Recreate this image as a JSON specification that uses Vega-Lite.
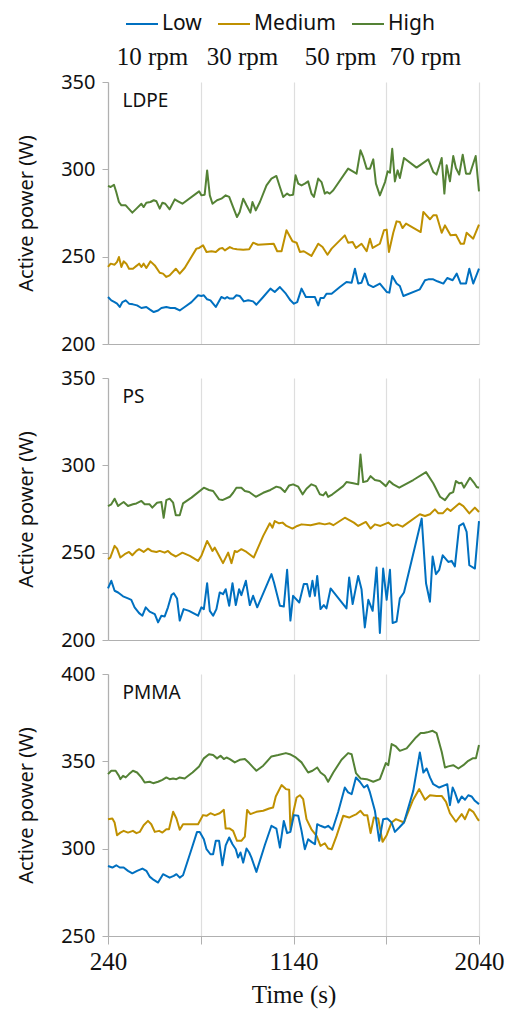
{
"$schema": "https://vega.github.io/schema/vega-lite/v6.json",
"padding": {"left": 16, "top": 7, "right": 5, "bottom": 5},
"background": "white",
"bounds": "flush",
"spacing": 34,
"config": {
  "view": {"stroke": null},
  "axis": {"domainColor": "#b0b0b0", "tickColor": "#b0b0b0", "gridColor": "#dedede", "labelColor": "#111111", "titleColor": "#111111", "domainWidth": 1.2, "gridWidth": 1.2}
},
"datasets": {
"LDPE": [
{"s":"High","t":240,"p":290.5},{"s":"High","t":253,"p":289.9},{"s":"High","t":269,"p":291.2},{"s":"High","t":280,"p":287.0},{"s":"High","t":293,"p":281.3},{"s":"High","t":305,"p":279.4},{"s":"High","t":326,"p":279.4},{"s":"High","t":337,"p":277.9},{"s":"High","t":358,"p":275.2},{"s":"High","t":378,"p":277.5},{"s":"High","t":402,"p":280.3},{"s":"High","t":413,"p":278.4},{"s":"High","t":426,"p":280.9},{"s":"High","t":446,"p":281.3},{"s":"High","t":462,"p":282.3},{"s":"High","t":475,"p":281.7},{"s":"High","t":491,"p":277.5},{"s":"High","t":504,"p":280.9},{"s":"High","t":518,"p":280.3},{"s":"High","t":539,"p":277.1},{"s":"High","t":564,"p":282.8},{"s":"High","t":580,"p":281.7},{"s":"High","t":601,"p":280.3},{"s":"High","t":682,"p":287.4},{"s":"High","t":693,"p":285.1},{"s":"High","t":709,"p":285.5},{"s":"High","t":721,"p":299.4},{"s":"High","t":734,"p":285.1},{"s":"High","t":747,"p":280.3},{"s":"High","t":769,"p":282.3},{"s":"High","t":790,"p":283.2},{"s":"High","t":811,"p":285.1},{"s":"High","t":828,"p":284.2},{"s":"High","t":847,"p":278.4},{"s":"High","t":866,"p":272.7},{"s":"High","t":879,"p":275.6},{"s":"High","t":896,"p":283.2},{"s":"High","t":912,"p":279.4},{"s":"High","t":931,"p":275.2},{"s":"High","t":941,"p":281.3},{"s":"High","t":957,"p":276.5},{"s":"High","t":977,"p":281.3},{"s":"High","t":1009,"p":290.8},{"s":"High","t":1033,"p":294.7},{"s":"High","t":1057,"p":296.2},{"s":"High","t":1074,"p":289.9},{"s":"High","t":1090,"p":284.2},{"s":"High","t":1109,"p":286.1},{"s":"High","t":1122,"p":285.1},{"s":"High","t":1138,"p":285.5},{"s":"High","t":1150,"p":296.6},{"s":"High","t":1163,"p":291.8},{"s":"High","t":1179,"p":290.8},{"s":"High","t":1195,"p":291.8},{"s":"High","t":1211,"p":293.1},{"s":"High","t":1227,"p":286.1},{"s":"High","t":1239,"p":284.2},{"s":"High","t":1260,"p":294.7},{"s":"High","t":1276,"p":292.7},{"s":"High","t":1292,"p":286.1},{"s":"High","t":1303,"p":287.0},{"s":"High","t":1316,"p":286.1},{"s":"High","t":1333,"p":288.0},{"s":"High","t":1405,"p":300.4},{"s":"High","t":1446,"p":297.5},{"s":"High","t":1465,"p":310.9},{"s":"High","t":1478,"p":307.1},{"s":"High","t":1495,"p":300.4},{"s":"High","t":1511,"p":300.4},{"s":"High","t":1527,"p":305.7},{"s":"High","t":1540,"p":291.8},{"s":"High","t":1559,"p":285.1},{"s":"High","t":1584,"p":292.7},{"s":"High","t":1597,"p":298.9},{"s":"High","t":1608,"p":298.1},{"s":"High","t":1619,"p":311.8},{"s":"High","t":1632,"p":293.1},{"s":"High","t":1645,"p":299.4},{"s":"High","t":1656,"p":295.0},{"s":"High","t":1676,"p":306.5},{"s":"High","t":1737,"p":301.0},{"s":"High","t":1794,"p":305.7},{"s":"High","t":1818,"p":298.5},{"s":"High","t":1834,"p":297.0},{"s":"High","t":1859,"p":306.5},{"s":"High","t":1872,"p":286.1},{"s":"High","t":1883,"p":302.3},{"s":"High","t":1899,"p":293.1},{"s":"High","t":1915,"p":307.6},{"s":"High","t":1928,"p":300.8},{"s":"High","t":1944,"p":297.0},{"s":"High","t":1961,"p":308.4},{"s":"High","t":1977,"p":297.5},{"s":"High","t":1996,"p":297.5},{"s":"High","t":2024,"p":307.6},{"s":"High","t":2040,"p":287.4},
{"s":"Medium","t":240,"p":244.1},{"s":"Medium","t":253,"p":246.0},{"s":"Medium","t":272,"p":245.4},{"s":"Medium","t":284,"p":247.0},{"s":"Medium","t":293,"p":249.8},{"s":"Medium","t":305,"p":244.1},{"s":"Medium","t":316,"p":247.3},{"s":"Medium","t":329,"p":246.0},{"s":"Medium","t":342,"p":243.1},{"s":"Medium","t":361,"p":243.1},{"s":"Medium","t":381,"p":245.0},{"s":"Medium","t":391,"p":246.0},{"s":"Medium","t":402,"p":244.1},{"s":"Medium","t":413,"p":246.0},{"s":"Medium","t":426,"p":243.5},{"s":"Medium","t":446,"p":247.3},{"s":"Medium","t":467,"p":245.0},{"s":"Medium","t":491,"p":240.8},{"s":"Medium","t":507,"p":240.3},{"s":"Medium","t":523,"p":238.4},{"s":"Medium","t":539,"p":239.3},{"s":"Medium","t":569,"p":243.1},{"s":"Medium","t":588,"p":240.3},{"s":"Medium","t":612,"p":243.5},{"s":"Medium","t":669,"p":254.6},{"s":"Medium","t":682,"p":255.0},{"s":"Medium","t":701,"p":256.5},{"s":"Medium","t":718,"p":252.7},{"s":"Medium","t":742,"p":253.1},{"s":"Medium","t":763,"p":252.7},{"s":"Medium","t":782,"p":254.6},{"s":"Medium","t":795,"p":255.0},{"s":"Medium","t":807,"p":253.6},{"s":"Medium","t":831,"p":255.5},{"s":"Medium","t":847,"p":254.6},{"s":"Medium","t":866,"p":254.2},{"s":"Medium","t":896,"p":254.0},{"s":"Medium","t":925,"p":254.2},{"s":"Medium","t":944,"p":258.0},{"s":"Medium","t":968,"p":256.8},{"s":"Medium","t":1044,"p":257.4},{"s":"Medium","t":1061,"p":253.1},{"s":"Medium","t":1082,"p":253.1},{"s":"Medium","t":1106,"p":265.1},{"s":"Medium","t":1135,"p":258.8},{"s":"Medium","t":1155,"p":258.0},{"s":"Medium","t":1171,"p":252.7},{"s":"Medium","t":1190,"p":253.1},{"s":"Medium","t":1227,"p":250.4},{"s":"Medium","t":1260,"p":257.4},{"s":"Medium","t":1281,"p":255.5},{"s":"Medium","t":1305,"p":251.1},{"s":"Medium","t":1325,"p":254.6},{"s":"Medium","t":1389,"p":262.2},{"s":"Medium","t":1405,"p":258.0},{"s":"Medium","t":1427,"p":258.4},{"s":"Medium","t":1443,"p":255.0},{"s":"Medium","t":1470,"p":257.4},{"s":"Medium","t":1495,"p":253.1},{"s":"Medium","t":1511,"p":260.3},{"s":"Medium","t":1524,"p":255.0},{"s":"Medium","t":1559,"p":257.4},{"s":"Medium","t":1579,"p":265.1},{"s":"Medium","t":1592,"p":265.5},{"s":"Medium","t":1603,"p":252.7},{"s":"Medium","t":1624,"p":263.7},{"s":"Medium","t":1640,"p":270.2},{"s":"Medium","t":1656,"p":269.8},{"s":"Medium","t":1669,"p":266.4},{"s":"Medium","t":1686,"p":268.9},{"s":"Medium","t":1757,"p":264.1},{"s":"Medium","t":1770,"p":275.6},{"s":"Medium","t":1802,"p":271.4},{"s":"Medium","t":1818,"p":273.7},{"s":"Medium","t":1834,"p":273.7},{"s":"Medium","t":1859,"p":263.7},{"s":"Medium","t":1875,"p":267.9},{"s":"Medium","t":1902,"p":262.2},{"s":"Medium","t":1928,"p":262.6},{"s":"Medium","t":1951,"p":257.4},{"s":"Medium","t":1967,"p":257.4},{"s":"Medium","t":1980,"p":263.7},{"s":"Medium","t":2012,"p":260.3},{"s":"Medium","t":2040,"p":268.3},
{"s":"Low","t":240,"p":226.9},{"s":"Low","t":256,"p":225.0},{"s":"Low","t":272,"p":224.0},{"s":"Low","t":284,"p":223.1},{"s":"Low","t":297,"p":221.2},{"s":"Low","t":310,"p":224.0},{"s":"Low","t":326,"p":225.0},{"s":"Low","t":342,"p":223.1},{"s":"Low","t":361,"p":222.7},{"s":"Low","t":381,"p":222.1},{"s":"Low","t":402,"p":220.6},{"s":"Low","t":426,"p":221.2},{"s":"Low","t":442,"p":219.8},{"s":"Low","t":462,"p":218.3},{"s":"Low","t":483,"p":219.2},{"s":"Low","t":499,"p":220.6},{"s":"Low","t":523,"p":221.2},{"s":"Low","t":543,"p":220.6},{"s":"Low","t":564,"p":220.6},{"s":"Low","t":588,"p":219.2},{"s":"Low","t":612,"p":221.2},{"s":"Low","t":645,"p":224.0},{"s":"Low","t":677,"p":227.9},{"s":"Low","t":693,"p":227.5},{"s":"Low","t":705,"p":227.9},{"s":"Low","t":721,"p":225.6},{"s":"Low","t":737,"p":225.0},{"s":"Low","t":763,"p":221.2},{"s":"Low","t":790,"p":226.9},{"s":"Low","t":807,"p":226.0},{"s":"Low","t":818,"p":226.9},{"s":"Low","t":831,"p":226.0},{"s":"Low","t":847,"p":226.0},{"s":"Low","t":863,"p":227.9},{"s":"Low","t":879,"p":227.5},{"s":"Low","t":899,"p":224.4},{"s":"Low","t":920,"p":225.0},{"s":"Low","t":944,"p":224.4},{"s":"Low","t":960,"p":222.5},{"s":"Low","t":993,"p":226.9},{"s":"Low","t":1028,"p":231.7},{"s":"Low","t":1049,"p":229.8},{"s":"Low","t":1074,"p":232.6},{"s":"Low","t":1103,"p":228.8},{"s":"Low","t":1125,"p":225.0},{"s":"Low","t":1142,"p":223.1},{"s":"Low","t":1158,"p":224.0},{"s":"Low","t":1179,"p":231.7},{"s":"Low","t":1200,"p":226.9},{"s":"Low","t":1219,"p":226.9},{"s":"Low","t":1244,"p":226.9},{"s":"Low","t":1260,"p":222.1},{"s":"Low","t":1271,"p":226.3},{"s":"Low","t":1287,"p":226.3},{"s":"Low","t":1300,"p":228.8},{"s":"Low","t":1325,"p":228.8},{"s":"Low","t":1365,"p":232.6},{"s":"Low","t":1397,"p":235.5},{"s":"Low","t":1422,"p":235.1},{"s":"Low","t":1438,"p":243.1},{"s":"Low","t":1454,"p":234.6},{"s":"Low","t":1470,"p":235.1},{"s":"Low","t":1486,"p":240.3},{"s":"Low","t":1503,"p":234.0},{"s":"Low","t":1527,"p":232.6},{"s":"Low","t":1559,"p":234.6},{"s":"Low","t":1592,"p":229.8},{"s":"Low","t":1605,"p":229.4},{"s":"Low","t":1619,"p":238.9},{"s":"Low","t":1640,"p":234.6},{"s":"Low","t":1656,"p":233.2},{"s":"Low","t":1673,"p":227.5},{"s":"Low","t":1753,"p":231.3},{"s":"Low","t":1778,"p":236.5},{"s":"Low","t":1794,"p":237.0},{"s":"Low","t":1818,"p":237.0},{"s":"Low","t":1838,"p":235.9},{"s":"Low","t":1867,"p":234.6},{"s":"Low","t":1886,"p":237.8},{"s":"Low","t":1912,"p":236.5},{"s":"Low","t":1932,"p":240.3},{"s":"Low","t":1951,"p":234.6},{"s":"Low","t":1977,"p":234.6},{"s":"Low","t":1993,"p":243.1},{"s":"Low","t":2012,"p":234.6},{"s":"Low","t":2040,"p":243.1}
],
"PS": [
{"s":"High","t":240,"p":276.7},{"s":"High","t":256,"p":277.7},{"s":"High","t":272,"p":280.9},{"s":"High","t":289,"p":276.7},{"s":"High","t":300,"p":277.7},{"s":"High","t":316,"p":279.0},{"s":"High","t":337,"p":276.7},{"s":"High","t":361,"p":277.7},{"s":"High","t":378,"p":278.2},{"s":"High","t":402,"p":279.6},{"s":"High","t":418,"p":277.7},{"s":"High","t":442,"p":277.7},{"s":"High","t":455,"p":275.8},{"s":"High","t":478,"p":278.6},{"s":"High","t":499,"p":279.0},{"s":"High","t":510,"p":270.0},{"s":"High","t":523,"p":280.1},{"s":"High","t":539,"p":280.9},{"s":"High","t":556,"p":278.6},{"s":"High","t":569,"p":271.4},{"s":"High","t":588,"p":271.4},{"s":"High","t":604,"p":278.2},{"s":"High","t":645,"p":281.5},{"s":"High","t":705,"p":287.2},{"s":"High","t":730,"p":285.9},{"s":"High","t":750,"p":285.3},{"s":"High","t":779,"p":280.5},{"s":"High","t":795,"p":280.1},{"s":"High","t":831,"p":282.0},{"s":"High","t":847,"p":284.3},{"s":"High","t":863,"p":287.2},{"s":"High","t":887,"p":287.2},{"s":"High","t":904,"p":285.3},{"s":"High","t":925,"p":284.7},{"s":"High","t":957,"p":282.0},{"s":"High","t":993,"p":284.3},{"s":"High","t":1028,"p":285.9},{"s":"High","t":1057,"p":287.8},{"s":"High","t":1077,"p":287.2},{"s":"High","t":1098,"p":284.7},{"s":"High","t":1119,"p":288.5},{"s":"High","t":1138,"p":289.1},{"s":"High","t":1163,"p":287.8},{"s":"High","t":1184,"p":283.4},{"s":"High","t":1203,"p":286.6},{"s":"High","t":1227,"p":289.1},{"s":"High","t":1248,"p":288.1},{"s":"High","t":1268,"p":283.4},{"s":"High","t":1284,"p":282.8},{"s":"High","t":1297,"p":284.7},{"s":"High","t":1308,"p":281.9},{"s":"High","t":1329,"p":283.4},{"s":"High","t":1381,"p":288.1},{"s":"High","t":1397,"p":290.4},{"s":"High","t":1430,"p":289.7},{"s":"High","t":1454,"p":289.1},{"s":"High","t":1465,"p":306.2},{"s":"High","t":1478,"p":290.4},{"s":"High","t":1498,"p":291.0},{"s":"High","t":1514,"p":293.8},{"s":"High","t":1535,"p":291.6},{"s":"High","t":1559,"p":291.0},{"s":"High","t":1588,"p":288.1},{"s":"High","t":1605,"p":291.0},{"s":"High","t":1624,"p":289.1},{"s":"High","t":1653,"p":287.2},{"s":"High","t":1721,"p":291.6},{"s":"High","t":1783,"p":296.1},{"s":"High","t":1818,"p":289.7},{"s":"High","t":1851,"p":282.0},{"s":"High","t":1875,"p":280.1},{"s":"High","t":1899,"p":283.9},{"s":"High","t":1915,"p":284.7},{"s":"High","t":1928,"p":291.0},{"s":"High","t":1944,"p":289.7},{"s":"High","t":1956,"p":290.0},{"s":"High","t":1967,"p":287.2},{"s":"High","t":1996,"p":292.9},{"s":"High","t":2016,"p":290.0},{"s":"High","t":2029,"p":287.6},{"s":"High","t":2040,"p":287.2},
{"s":"Medium","t":240,"p":246.3},{"s":"Medium","t":251,"p":247.2},{"s":"Medium","t":272,"p":253.9},{"s":"Medium","t":284,"p":252.3},{"s":"Medium","t":300,"p":247.2},{"s":"Medium","t":321,"p":249.1},{"s":"Medium","t":342,"p":250.4},{"s":"Medium","t":358,"p":248.5},{"s":"Medium","t":378,"p":251.0},{"s":"Medium","t":391,"p":252.0},{"s":"Medium","t":413,"p":250.4},{"s":"Medium","t":434,"p":252.3},{"s":"Medium","t":450,"p":251.0},{"s":"Medium","t":475,"p":250.4},{"s":"Medium","t":491,"p":251.0},{"s":"Medium","t":515,"p":250.0},{"s":"Medium","t":531,"p":251.0},{"s":"Medium","t":548,"p":249.1},{"s":"Medium","t":569,"p":247.8},{"s":"Medium","t":601,"p":250.0},{"s":"Medium","t":637,"p":248.2},{"s":"Medium","t":677,"p":245.3},{"s":"Medium","t":693,"p":248.2},{"s":"Medium","t":721,"p":256.7},{"s":"Medium","t":734,"p":253.9},{"s":"Medium","t":747,"p":251.0},{"s":"Medium","t":758,"p":252.9},{"s":"Medium","t":779,"p":248.2},{"s":"Medium","t":798,"p":244.0},{"s":"Medium","t":823,"p":250.0},{"s":"Medium","t":839,"p":244.0},{"s":"Medium","t":855,"p":251.0},{"s":"Medium","t":866,"p":250.4},{"s":"Medium","t":887,"p":252.0},{"s":"Medium","t":912,"p":250.4},{"s":"Medium","t":947,"p":247.2},{"s":"Medium","t":993,"p":259.6},{"s":"Medium","t":1025,"p":266.8},{"s":"Medium","t":1038,"p":264.3},{"s":"Medium","t":1049,"p":268.1},{"s":"Medium","t":1070,"p":266.8},{"s":"Medium","t":1087,"p":267.2},{"s":"Medium","t":1106,"p":265.3},{"s":"Medium","t":1135,"p":263.8},{"s":"Medium","t":1158,"p":265.3},{"s":"Medium","t":1179,"p":266.2},{"s":"Medium","t":1223,"p":265.7},{"s":"Medium","t":1265,"p":266.8},{"s":"Medium","t":1292,"p":266.2},{"s":"Medium","t":1316,"p":266.8},{"s":"Medium","t":1333,"p":265.7},{"s":"Medium","t":1389,"p":270.0},{"s":"Medium","t":1433,"p":267.2},{"s":"Medium","t":1454,"p":265.3},{"s":"Medium","t":1491,"p":267.6},{"s":"Medium","t":1514,"p":263.8},{"s":"Medium","t":1535,"p":266.2},{"s":"Medium","t":1562,"p":265.3},{"s":"Medium","t":1600,"p":267.2},{"s":"Medium","t":1621,"p":265.3},{"s":"Medium","t":1643,"p":266.2},{"s":"Medium","t":1669,"p":264.9},{"s":"Medium","t":1753,"p":272.0},{"s":"Medium","t":1778,"p":271.0},{"s":"Medium","t":1802,"p":272.0},{"s":"Medium","t":1826,"p":274.8},{"s":"Medium","t":1843,"p":272.5},{"s":"Medium","t":1864,"p":272.5},{"s":"Medium","t":1886,"p":275.2},{"s":"Medium","t":1902,"p":273.9},{"s":"Medium","t":1944,"p":278.2},{"s":"Medium","t":1964,"p":276.7},{"s":"Medium","t":1993,"p":272.5},{"s":"Medium","t":2020,"p":275.8},{"s":"Medium","t":2040,"p":273.3},
{"s":"Low","t":240,"p":229.5},{"s":"Low","t":256,"p":233.9},{"s":"Low","t":272,"p":228.2},{"s":"Low","t":289,"p":227.2},{"s":"Low","t":313,"p":225.0},{"s":"Low","t":337,"p":223.8},{"s":"Low","t":353,"p":223.0},{"s":"Low","t":369,"p":218.7},{"s":"Low","t":391,"p":215.4},{"s":"Low","t":407,"p":213.9},{"s":"Low","t":423,"p":218.7},{"s":"Low","t":442,"p":216.2},{"s":"Low","t":467,"p":214.8},{"s":"Low","t":483,"p":210.1},{"s":"Low","t":499,"p":213.9},{"s":"Low","t":515,"p":213.5},{"s":"Low","t":531,"p":218.7},{"s":"Low","t":548,"p":225.7},{"s":"Low","t":559,"p":226.8},{"s":"Low","t":575,"p":223.8},{"s":"Low","t":588,"p":211.1},{"s":"Low","t":607,"p":217.7},{"s":"Low","t":633,"p":216.7},{"s":"Low","t":677,"p":213.9},{"s":"Low","t":693,"p":218.7},{"s":"Low","t":705,"p":217.7},{"s":"Low","t":721,"p":232.5},{"s":"Low","t":734,"p":216.7},{"s":"Low","t":750,"p":213.9},{"s":"Low","t":766,"p":217.7},{"s":"Low","t":782,"p":227.2},{"s":"Low","t":798,"p":226.2},{"s":"Low","t":811,"p":229.1},{"s":"Low","t":828,"p":219.6},{"s":"Low","t":844,"p":232.5},{"s":"Low","t":860,"p":220.0},{"s":"Low","t":876,"p":229.1},{"s":"Low","t":887,"p":225.7},{"s":"Low","t":909,"p":233.9},{"s":"Low","t":928,"p":220.0},{"s":"Low","t":944,"p":225.3},{"s":"Low","t":964,"p":218.7},{"s":"Low","t":1033,"p":237.7},{"s":"Low","t":1045,"p":233.1},{"s":"Low","t":1074,"p":219.6},{"s":"Low","t":1093,"p":219.2},{"s":"Low","t":1109,"p":240.2},{"s":"Low","t":1125,"p":211.1},{"s":"Low","t":1138,"p":225.3},{"s":"Low","t":1168,"p":221.5},{"s":"Low","t":1190,"p":232.0},{"s":"Low","t":1206,"p":232.0},{"s":"Low","t":1219,"p":224.9},{"s":"Low","t":1232,"p":233.9},{"s":"Low","t":1244,"p":225.3},{"s":"Low","t":1255,"p":236.7},{"s":"Low","t":1271,"p":217.7},{"s":"Low","t":1287,"p":220.0},{"s":"Low","t":1300,"p":218.1},{"s":"Low","t":1320,"p":229.5},{"s":"Low","t":1397,"p":218.1},{"s":"Low","t":1410,"p":235.8},{"s":"Low","t":1427,"p":220.6},{"s":"Low","t":1454,"p":236.7},{"s":"Low","t":1470,"p":229.1},{"s":"Low","t":1486,"p":207.2},{"s":"Low","t":1503,"p":223.0},{"s":"Low","t":1524,"p":216.7},{"s":"Low","t":1543,"p":241.5},{"s":"Low","t":1559,"p":204.0},{"s":"Low","t":1575,"p":240.9},{"s":"Low","t":1592,"p":223.0},{"s":"Low","t":1608,"p":240.2},{"s":"Low","t":1621,"p":209.7},{"s":"Low","t":1640,"p":210.5},{"s":"Low","t":1656,"p":223.8},{"s":"Low","t":1676,"p":227.2},{"s":"Low","t":1762,"p":269.5},{"s":"Low","t":1783,"p":232.5},{"s":"Low","t":1802,"p":221.9},{"s":"Low","t":1815,"p":247.8},{"s":"Low","t":1831,"p":237.7},{"s":"Low","t":1847,"p":240.2},{"s":"Low","t":1864,"p":248.5},{"s":"Low","t":1891,"p":244.7},{"s":"Low","t":1907,"p":245.3},{"s":"Low","t":1923,"p":242.1},{"s":"Low","t":1944,"p":265.3},{"s":"Low","t":1964,"p":266.8},{"s":"Low","t":1980,"p":261.9},{"s":"Low","t":1993,"p":242.8},{"s":"Low","t":2020,"p":240.9},{"s":"Low","t":2040,"p":268.1}
],
"PMMA": [
{"s":"High","t":240,"p":342.7},{"s":"High","t":256,"p":344.6},{"s":"High","t":277,"p":344.6},{"s":"High","t":293,"p":341.7},{"s":"High","t":300,"p":339.8},{"s":"High","t":313,"p":341.7},{"s":"High","t":326,"p":340.8},{"s":"High","t":342,"p":342.7},{"s":"High","t":361,"p":344.6},{"s":"High","t":381,"p":343.6},{"s":"High","t":402,"p":340.8},{"s":"High","t":418,"p":337.9},{"s":"High","t":442,"p":338.3},{"s":"High","t":459,"p":337.5},{"s":"High","t":483,"p":338.3},{"s":"High","t":504,"p":339.4},{"s":"High","t":523,"p":340.8},{"s":"High","t":539,"p":339.8},{"s":"High","t":556,"p":340.2},{"s":"High","t":572,"p":339.8},{"s":"High","t":588,"p":340.8},{"s":"High","t":612,"p":340.2},{"s":"High","t":650,"p":343.6},{"s":"High","t":682,"p":347.1},{"s":"High","t":705,"p":351.7},{"s":"High","t":730,"p":354.1},{"s":"High","t":750,"p":353.6},{"s":"High","t":769,"p":351.7},{"s":"High","t":786,"p":353.2},{"s":"High","t":802,"p":351.3},{"s":"High","t":815,"p":352.2},{"s":"High","t":831,"p":351.3},{"s":"High","t":855,"p":349.4},{"s":"High","t":879,"p":350.9},{"s":"High","t":904,"p":351.3},{"s":"High","t":925,"p":349.0},{"s":"High","t":960,"p":344.6},{"s":"High","t":993,"p":347.5},{"s":"High","t":1033,"p":352.8},{"s":"High","t":1066,"p":353.6},{"s":"High","t":1103,"p":354.7},{"s":"High","t":1122,"p":354.1},{"s":"High","t":1151,"p":352.2},{"s":"High","t":1179,"p":349.4},{"s":"High","t":1211,"p":343.6},{"s":"High","t":1232,"p":344.6},{"s":"High","t":1255,"p":346.5},{"s":"High","t":1271,"p":343.6},{"s":"High","t":1292,"p":341.7},{"s":"High","t":1308,"p":338.3},{"s":"High","t":1333,"p":343.6},{"s":"High","t":1373,"p":350.9},{"s":"High","t":1405,"p":354.7},{"s":"High","t":1422,"p":354.1},{"s":"High","t":1443,"p":343.3},{"s":"High","t":1465,"p":340.2},{"s":"High","t":1495,"p":339.8},{"s":"High","t":1527,"p":338.3},{"s":"High","t":1559,"p":339.8},{"s":"High","t":1588,"p":349.0},{"s":"High","t":1600,"p":347.8},{"s":"High","t":1616,"p":359.9},{"s":"High","t":1637,"p":358.5},{"s":"High","t":1656,"p":356.0},{"s":"High","t":1689,"p":357.4},{"s":"High","t":1734,"p":363.7},{"s":"High","t":1757,"p":366.2},{"s":"High","t":1773,"p":366.2},{"s":"High","t":1789,"p":366.6},{"s":"High","t":1815,"p":367.5},{"s":"High","t":1834,"p":366.2},{"s":"High","t":1859,"p":355.5},{"s":"High","t":1875,"p":346.5},{"s":"High","t":1891,"p":347.1},{"s":"High","t":1915,"p":347.8},{"s":"High","t":1940,"p":345.9},{"s":"High","t":1964,"p":347.8},{"s":"High","t":1988,"p":350.3},{"s":"High","t":2009,"p":351.7},{"s":"High","t":2025,"p":351.7},{"s":"High","t":2040,"p":359.3},
{"s":"Medium","t":240,"p":316.9},{"s":"Medium","t":261,"p":317.3},{"s":"Medium","t":272,"p":315.0},{"s":"Medium","t":284,"p":307.7},{"s":"Medium","t":300,"p":309.2},{"s":"Medium","t":316,"p":310.2},{"s":"Medium","t":337,"p":309.2},{"s":"Medium","t":361,"p":310.2},{"s":"Medium","t":378,"p":308.9},{"s":"Medium","t":394,"p":309.6},{"s":"Medium","t":413,"p":313.4},{"s":"Medium","t":434,"p":315.9},{"s":"Medium","t":450,"p":314.0},{"s":"Medium","t":467,"p":309.6},{"s":"Medium","t":488,"p":310.2},{"s":"Medium","t":504,"p":309.2},{"s":"Medium","t":523,"p":311.1},{"s":"Medium","t":536,"p":311.1},{"s":"Medium","t":556,"p":321.1},{"s":"Medium","t":572,"p":317.3},{"s":"Medium","t":588,"p":310.8},{"s":"Medium","t":604,"p":314.0},{"s":"Medium","t":645,"p":314.0},{"s":"Medium","t":677,"p":314.0},{"s":"Medium","t":701,"p":319.2},{"s":"Medium","t":718,"p":318.8},{"s":"Medium","t":737,"p":320.3},{"s":"Medium","t":758,"p":319.2},{"s":"Medium","t":782,"p":320.3},{"s":"Medium","t":802,"p":322.2},{"s":"Medium","t":811,"p":311.5},{"s":"Medium","t":831,"p":311.5},{"s":"Medium","t":847,"p":310.2},{"s":"Medium","t":866,"p":304.5},{"s":"Medium","t":887,"p":304.5},{"s":"Medium","t":904,"p":306.9},{"s":"Medium","t":915,"p":322.2},{"s":"Medium","t":931,"p":319.8},{"s":"Medium","t":960,"p":321.1},{"s":"Medium","t":993,"p":321.7},{"s":"Medium","t":1022,"p":323.0},{"s":"Medium","t":1041,"p":323.6},{"s":"Medium","t":1054,"p":329.9},{"s":"Medium","t":1082,"p":336.4},{"s":"Medium","t":1103,"p":334.1},{"s":"Medium","t":1119,"p":333.7},{"s":"Medium","t":1125,"p":310.8},{"s":"Medium","t":1138,"p":320.3},{"s":"Medium","t":1155,"p":329.3},{"s":"Medium","t":1171,"p":330.6},{"s":"Medium","t":1187,"p":328.3},{"s":"Medium","t":1203,"p":316.9},{"s":"Medium","t":1227,"p":311.1},{"s":"Medium","t":1252,"p":307.3},{"s":"Medium","t":1271,"p":301.6},{"s":"Medium","t":1292,"p":303.1},{"s":"Medium","t":1308,"p":300.1},{"s":"Medium","t":1325,"p":299.7},{"s":"Medium","t":1349,"p":307.3},{"s":"Medium","t":1381,"p":318.8},{"s":"Medium","t":1410,"p":317.8},{"s":"Medium","t":1427,"p":318.8},{"s":"Medium","t":1446,"p":319.8},{"s":"Medium","t":1465,"p":321.7},{"s":"Medium","t":1482,"p":319.2},{"s":"Medium","t":1498,"p":319.2},{"s":"Medium","t":1514,"p":308.9},{"s":"Medium","t":1530,"p":317.8},{"s":"Medium","t":1551,"p":317.3},{"s":"Medium","t":1572,"p":303.9},{"s":"Medium","t":1592,"p":307.7},{"s":"Medium","t":1616,"p":315.0},{"s":"Medium","t":1637,"p":316.9},{"s":"Medium","t":1676,"p":315.0},{"s":"Medium","t":1718,"p":327.4},{"s":"Medium","t":1750,"p":334.1},{"s":"Medium","t":1778,"p":328.0},{"s":"Medium","t":1802,"p":330.6},{"s":"Medium","t":1834,"p":330.2},{"s":"Medium","t":1859,"p":330.2},{"s":"Medium","t":1880,"p":326.8},{"s":"Medium","t":1899,"p":320.3},{"s":"Medium","t":1928,"p":315.4},{"s":"Medium","t":1956,"p":319.8},{"s":"Medium","t":1972,"p":316.9},{"s":"Medium","t":1993,"p":322.6},{"s":"Medium","t":2012,"p":321.1},{"s":"Medium","t":2029,"p":317.8},{"s":"Medium","t":2040,"p":315.9},
{"s":"Low","t":240,"p":290.1},{"s":"Low","t":261,"p":289.2},{"s":"Low","t":280,"p":290.5},{"s":"Low","t":297,"p":289.2},{"s":"Low","t":316,"p":289.2},{"s":"Low","t":337,"p":287.3},{"s":"Low","t":358,"p":285.9},{"s":"Low","t":381,"p":287.3},{"s":"Low","t":407,"p":288.6},{"s":"Low","t":426,"p":287.3},{"s":"Low","t":442,"p":284.0},{"s":"Low","t":462,"p":282.1},{"s":"Low","t":483,"p":280.6},{"s":"Low","t":507,"p":285.4},{"s":"Low","t":523,"p":284.4},{"s":"Low","t":539,"p":283.4},{"s":"Low","t":559,"p":284.4},{"s":"Low","t":572,"p":285.4},{"s":"Low","t":588,"p":283.4},{"s":"Low","t":604,"p":284.8},{"s":"Low","t":645,"p":299.7},{"s":"Low","t":672,"p":309.6},{"s":"Low","t":685,"p":309.6},{"s":"Low","t":705,"p":305.4},{"s":"Low","t":718,"p":299.7},{"s":"Low","t":737,"p":296.8},{"s":"Low","t":750,"p":296.8},{"s":"Low","t":763,"p":304.5},{"s":"Low","t":779,"p":304.5},{"s":"Low","t":795,"p":290.5},{"s":"Low","t":811,"p":301.9},{"s":"Low","t":828,"p":306.4},{"s":"Low","t":844,"p":302.5},{"s":"Low","t":860,"p":299.7},{"s":"Low","t":871,"p":294.9},{"s":"Low","t":883,"p":297.8},{"s":"Low","t":896,"p":292.0},{"s":"Low","t":912,"p":300.1},{"s":"Low","t":925,"p":297.8},{"s":"Low","t":936,"p":294.9},{"s":"Low","t":960,"p":286.7},{"s":"Low","t":1001,"p":302.1},{"s":"Low","t":1033,"p":313.1},{"s":"Low","t":1057,"p":311.5},{"s":"Low","t":1074,"p":300.6},{"s":"Low","t":1093,"p":315.9},{"s":"Low","t":1109,"p":308.9},{"s":"Low","t":1125,"p":309.6},{"s":"Low","t":1142,"p":319.2},{"s":"Low","t":1163,"p":318.8},{"s":"Low","t":1179,"p":310.2},{"s":"Low","t":1195,"p":299.7},{"s":"Low","t":1211,"p":305.4},{"s":"Low","t":1227,"p":303.9},{"s":"Low","t":1244,"p":302.5},{"s":"Low","t":1255,"p":314.0},{"s":"Low","t":1271,"p":313.1},{"s":"Low","t":1292,"p":312.1},{"s":"Low","t":1308,"p":313.1},{"s":"Low","t":1329,"p":310.8},{"s":"Low","t":1357,"p":321.1},{"s":"Low","t":1389,"p":335.0},{"s":"Low","t":1405,"p":332.2},{"s":"Low","t":1422,"p":331.2},{"s":"Low","t":1443,"p":340.8},{"s":"Low","t":1462,"p":338.3},{"s":"Low","t":1482,"p":335.0},{"s":"Low","t":1498,"p":336.4},{"s":"Low","t":1511,"p":332.2},{"s":"Low","t":1535,"p":321.7},{"s":"Low","t":1556,"p":304.5},{"s":"Low","t":1575,"p":316.9},{"s":"Low","t":1595,"p":317.3},{"s":"Low","t":1616,"p":315.0},{"s":"Low","t":1632,"p":309.6},{"s":"Low","t":1653,"p":312.1},{"s":"Low","t":1676,"p":315.0},{"s":"Low","t":1721,"p":333.1},{"s":"Low","t":1753,"p":355.1},{"s":"Low","t":1770,"p":343.6},{"s":"Low","t":1786,"p":345.9},{"s":"Low","t":1802,"p":340.8},{"s":"Low","t":1818,"p":336.9},{"s":"Low","t":1847,"p":335.0},{"s":"Low","t":1875,"p":336.4},{"s":"Low","t":1886,"p":336.9},{"s":"Low","t":1899,"p":324.9},{"s":"Low","t":1912,"p":335.0},{"s":"Low","t":1923,"p":332.2},{"s":"Low","t":1940,"p":326.4},{"s":"Low","t":1956,"p":329.9},{"s":"Low","t":1972,"p":328.0},{"s":"Low","t":1988,"p":330.6},{"s":"Low","t":2004,"p":329.9},{"s":"Low","t":2020,"p":327.4},{"s":"Low","t":2040,"p":325.5}
]
},
"vconcat": [
{
  "width": 371, "height": 262,
  "layer": [
    {
      "data": {"name": "LDPE"},
      "mark": {"type": "line", "strokeJoin": "round"},
      "encoding": {
        "x": {"field": "t", "type": "quantitative", "scale": {"domain": [240, 2040], "nice": false, "zero": false},
          "axis": {"orient": "bottom", "values": [240, 690, 1140, 1590, 2040], "labels": false, "ticks": false, "title": null, "grid": true}},
        "y": {"field": "p", "type": "quantitative", "scale": {"domain": [200, 350], "nice": false, "zero": false},
          "axis": {"values": [200, 250, 300, 350], "grid": false, "title": "Active power (W)", "titleFont": "Noto Sans", "titleFontSize": 20, "titleFontWeight": "normal", "titlePadding": 24, "labelFont": "Noto Sans", "labelFontSize": 20, "tickSize": 6, "labelPadding": 7}},
        "color": {"field": "s", "type": "nominal", "scale": {"domain": ["Low", "Medium", "High"], "range": ["#0070C0", "#BF9000", "#548235"]},
          "legend": {"orient": "none", "legendX": 17, "legendY": -75, "direction": "horizontal", "title": null, "labelFont": "Noto Sans", "labelFontSize": 21, "labelColor": "#111111", "symbolType": "stroke", "symbolSize": 1024, "symbolStrokeWidth": 1.6, "labelOffset": 3, "columnPadding": 12, "padding": 0}},
        "strokeWidth": {"field": "s", "type": "nominal", "scale": {"domain": ["Low", "Medium", "High"], "range": [2, 2, 2.8]}, "legend": null}
      }
    },
    {
      "data": {"values": [{"name": "LDPE"}]},
      "mark": {"type": "text", "align": "left", "baseline": "middle", "font": "Noto Sans", "fontSize": 19, "color": "#111111"},
      "encoding": {
        "x": {"datum": 310, "type": "quantitative",
          "axis": {"orient": "top", "values": [453, 890, 1366, 1778], "labelExpr": "datum.value == 453 ? '10 rpm' : datum.value == 890 ? '30 rpm' : datum.value == 1366 ? '50 rpm' : '70 rpm'", "labelFlush": false, "domain": false, "ticks": false, "grid": false, "title": null, "labelFont": "Liberation Serif", "labelFontSize": 25, "labelPadding": 13, "labelColor": "#111111"}},
        "y": {"datum": 339, "type": "quantitative"},
        "text": {"field": "name"}
      }
    }
  ],
  "resolve": {"axis": {"x": "independent"}}
},
{
  "width": 371, "height": 262,
  "layer": [
    {
      "data": {"name": "PS"},
      "mark": {"type": "line", "strokeJoin": "round"},
      "encoding": {
        "x": {"field": "t", "type": "quantitative", "scale": {"domain": [240, 2040], "nice": false, "zero": false},
          "axis": {"orient": "bottom", "values": [240, 690, 1140, 1590, 2040], "labels": false, "ticks": false, "title": null, "grid": true}},
        "y": {"field": "p", "type": "quantitative", "scale": {"domain": [200, 350], "nice": false, "zero": false},
          "axis": {"values": [200, 250, 300, 350], "grid": false, "title": "Active power (W)", "titleFont": "Noto Sans", "titleFontSize": 20, "titleFontWeight": "normal", "titlePadding": 24, "labelFont": "Noto Sans", "labelFontSize": 20, "tickSize": 6, "labelPadding": 7}},
        "color": {"field": "s", "type": "nominal", "scale": {"domain": ["Low", "Medium", "High"], "range": ["#0070C0", "#BF9000", "#548235"]},
          "legend": {"orient": "none", "legendX": 17, "legendY": -75, "direction": "horizontal", "title": null, "labelFont": "Noto Sans", "labelFontSize": 21, "labelColor": "#111111", "symbolType": "stroke", "symbolSize": 1024, "symbolStrokeWidth": 1.6, "labelOffset": 3, "columnPadding": 12, "padding": 0}},
        "strokeWidth": {"field": "s", "type": "nominal", "scale": {"domain": ["Low", "Medium", "High"], "range": [2, 2, 2.8]}, "legend": null}
      }
    },
    {
      "data": {"values": [{"name": "PS"}]},
      "mark": {"type": "text", "align": "left", "baseline": "middle", "font": "Noto Sans", "fontSize": 19, "color": "#111111"},
      "encoding": {
        "x": {"datum": 310, "type": "quantitative"},
        "y": {"datum": 339, "type": "quantitative"},
        "text": {"field": "name"}
      }
    }
  ]
},
{
  "width": 371, "height": 262,
  "layer": [
    {
      "data": {"name": "PMMA"},
      "mark": {"type": "line", "strokeJoin": "round"},
      "encoding": {
        "x": {"field": "t", "type": "quantitative", "scale": {"domain": [240, 2040], "nice": false, "zero": false},
          "axis": {"orient": "bottom", "values": [240, 690, 1140, 1590, 2040], "format": "d", "labelExpr": "datum.value % 900 == 240 ? datum.label : ''", "labelFlush": false, "ticks": true, "tickSize": 8, "grid": true, "title": "Time (s)", "titleFont": "Liberation Serif", "titleFontSize": 25, "titleFontWeight": "normal", "titlePadding": 8, "labelFont": "Liberation Serif", "labelFontSize": 25, "labelPadding": 5}},
        "y": {"field": "p", "type": "quantitative", "scale": {"domain": [250, 400], "nice": false, "zero": false},
          "axis": {"values": [250, 300, 350, 400], "grid": false, "title": "Active power (W)", "titleFont": "Noto Sans", "titleFontSize": 20, "titleFontWeight": "normal", "titlePadding": 24, "labelFont": "Noto Sans", "labelFontSize": 20, "tickSize": 6, "labelPadding": 7}},
        "color": {"field": "s", "type": "nominal", "scale": {"domain": ["Low", "Medium", "High"], "range": ["#0070C0", "#BF9000", "#548235"]},
          "legend": {"orient": "none", "legendX": 17, "legendY": -75, "direction": "horizontal", "title": null, "labelFont": "Noto Sans", "labelFontSize": 21, "labelColor": "#111111", "symbolType": "stroke", "symbolSize": 1024, "symbolStrokeWidth": 1.6, "labelOffset": 3, "columnPadding": 12, "padding": 0}},
        "strokeWidth": {"field": "s", "type": "nominal", "scale": {"domain": ["Low", "Medium", "High"], "range": [2, 2, 2.8]}, "legend": null}
      }
    },
    {
      "data": {"values": [{"name": "PMMA"}]},
      "mark": {"type": "text", "align": "left", "baseline": "middle", "font": "Noto Sans", "fontSize": 19, "color": "#111111"},
      "encoding": {
        "x": {"datum": 310, "type": "quantitative"},
        "y": {"datum": 389, "type": "quantitative"},
        "text": {"field": "name"}
      }
    }
  ]
}
]
}
